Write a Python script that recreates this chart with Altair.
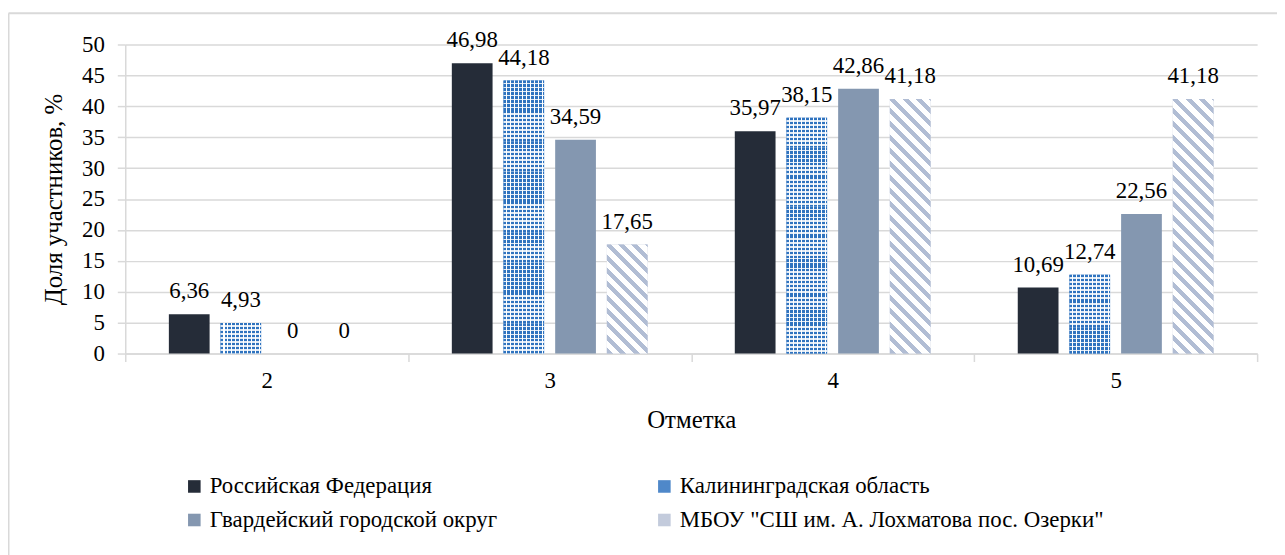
import math
import altair as alt
import pandas as pd

# ---------------- data ----------------
grades = ["2", "3", "4", "5"]
series = [
    "Российская Федерация",
    "Калининградская область",
    "Гвардейский городской округ",
    'МБОУ "СШ им. А. Лохматова пос. Озерки"',
]
rf_values = [6.36, 46.98, 35.97, 10.69]
kal_values = [4.93, 44.18, 38.15, 12.74]
gv_values = [0, 34.59, 42.86, 22.56]
mbou_values = [0, 17.65, 41.18, 41.18]
y_ticks = [0, 5, 10, 15, 20, 25, 30, 35, 40, 45, 50]

all_values = [rf_values, kal_values, gv_values, mbou_values]
rows = []
for si, (s, vals) in enumerate(zip(series, all_values)):
    for g, v in zip(grades, vals):
        lbl = ("%.2f" % v).rstrip("0").rstrip(".").replace(".", ",") if v else "0"
        rows.append({"grade": g, "series": s, "sidx": si, "value": v, "label": lbl})
df = pd.DataFrame(rows)

# ---------------- layout / style ----------------
W, H = 1139, 311
Y_MAX = 50
PX_PER_UNIT = H / Y_MAX
BAND = W / len(grades)
BAR_W, BAR_STEP = 41, 52
OFF_PI = (BAR_STEP - BAR_W) / BAR_STEP
OFF_PO = (BAND / BAR_STEP - len(series) + OFF_PI) / 2

FONT = "Liberation Serif"
LBL = 23
TTL = 25
GRID = "#d9d9d9"
series_colors = {
    series[0]: "#252c38",
    series[1]: "#4f88c9",
    series[2]: "#8497b0",
    series[3]: "#c3cbdc",
}
# Vega fills legend columns top-to-bottom -> reorder so rows read like the reference
legend_domain = [series[0], series[2], series[1], series[3]]
KAL_BLUE = "#2f73bf"
HATCH = "#b1bdd4"


def stripe_stops(n, frac, c_on, c_off):
    stops = []
    i = 0
    while i < n:
        a = min(i / n, 1)
        b = min((i + frac) / n, 1)
        c = min((i + 1) / n, 1)
        stops += [alt.GradientStop(offset=a, color=c_on), alt.GradientStop(offset=b, color=c_on),
                  alt.GradientStop(offset=b, color=c_off), alt.GradientStop(offset=c, color=c_off)]
        i += 1
    return stops


def diag_gradient(w, h, period, frac, c_on, c_off):
    k = (w + h) / (w * w + h * h)
    n = (w + h) / math.sqrt(2) / period
    return alt.LinearGradient(gradient="linear", stops=stripe_stops(n, frac, c_on, c_off),
                              x1=0, y1=1, x2=w * k, y2=1 - h * k)


def vert_gradient(n, frac, c_on, c_off):
    return alt.LinearGradient(gradient="linear", stops=stripe_stops(n, frac, c_on, c_off),
                              x1=0, y1=0, x2=1, y2=0)


def horiz_gradient(n, frac, c_on, c_off):
    return alt.LinearGradient(gradient="linear", stops=stripe_stops(n, frac, c_on, c_off),
                              x1=0, y1=0, x2=0, y2=1)


x_enc = alt.X(
    "grade:N",
    scale=alt.Scale(domain=grades, paddingInner=0, paddingOuter=0),
    axis=alt.Axis(
        title="Отметка", labelAngle=0, tickBand="extent", tickSize=8, tickColor=GRID,
        domainColor=GRID, domainWidth=1.5, tickWidth=1.5, labelFontSize=LBL, labelFont=FONT,
        labelColor="#000", labelPadding=8, titleFont=FONT, titleFontSize=TTL,
        titleFontWeight="normal", titleColor="#000", titleY=74, titleBaseline="alphabetic",
        grid=False,
    ),
)
xo_enc = alt.XOffset(
    "series:N",
    scale=alt.Scale(domain=series, paddingInner=OFF_PI, paddingOuter=OFF_PO),
)
y_scale = alt.Scale(domain=[0, Y_MAX], nice=False)
y_axis = alt.Axis(
    values=y_ticks, title="Доля участников, %", grid=True, gridColor=GRID, gridWidth=1.5,
    tickSize=8, tickColor=GRID, tickWidth=1.5, domainColor=GRID, domainWidth=1.5,
    labelFontSize=LBL, labelFont=FONT, labelColor="#000", labelPadding=13,
    titleFont=FONT, titleFontSize=TTL, titleFontWeight="normal", titleColor="#000",
    titleX=-64, titleY=H / 2, titleBaseline="alphabetic", titleAlign="center",
)
y_enc = alt.Y("value:Q", scale=y_scale, axis=y_axis)

base = alt.Chart(df).encode(x=x_enc, xOffset=xo_enc, y=y_enc)

bars = base.mark_bar().encode(
    color=alt.Color(
        "series:N",
        scale=alt.Scale(domain=legend_domain, range=[series_colors[s] for s in legend_domain]),
        legend=alt.Legend(
            title=None, orient="none", legendX=58, legendY=433, columns=2,
            columnPadding=156, rowPadding=10, symbolType="square", symbolSize=160,
            symbolStrokeWidth=0, labelFont=FONT, labelFontSize=LBL, labelColor="#000",
            labelLimit=700, labelOffset=4,
        ),
    )
)

layers = [bars]

# Kaliningrad: checkered pattern = vertical stripes + horizontal white lines,
# the horizontal lines drawn on equal slices of each bar.
CHECK_PERIOD = 4.0
layers.append(
    base.transform_filter("datum.sidx == 1").mark_bar(
        fill=vert_gradient(BAR_W / CHECK_PERIOD, 0.6, KAL_BLUE, "#ffffff")
    )
)
for g, v in zip(grades, kal_values):
    if v <= 0:
        continue
    n_slices = max(1, math.ceil(v / 5))
    slice_v = v / n_slices
    slice_px = slice_v * PX_PER_UNIT
    sl_rows = [{"grade": g, "series": series[1], "lo": i * slice_v, "hi": (i + 1) * slice_v}
               for i in range(n_slices)]
    layers.append(
        alt.Chart(pd.DataFrame(sl_rows)).mark_bar(
            fill=horiz_gradient(slice_px / CHECK_PERIOD, 0.6,
                                "rgba(255,255,255,0)", "rgba(255,255,255,0.85)")
        ).encode(x=x_enc, xOffset=xo_enc, y=alt.Y("lo:Q", scale=y_scale, axis=y_axis), y2="hi:Q")
    )

# MBOU: diagonal hatch
for g, v in zip(grades, mbou_values):
    if v > 0:
        h = v * PX_PER_UNIT
        layers.append(
            base.transform_filter(f"datum.sidx == 3 && datum.grade == '{g}'").mark_bar(
                fill=diag_gradient(BAR_W, h, 9.5, 0.45, HATCH, "#ffffff")
            )
        )

labels = base.mark_text(
    dy=-16, baseline="alphabetic", align="center", font=FONT, fontSize=LBL, color="#000"
).encode(text="label:N")
layers.append(labels)

# chart frame (top and left edges)
frame_df = pd.DataFrame({"a": [0]})
frame_left = alt.Chart(frame_df).mark_rule(color=GRID, strokeWidth=2).encode(
    x=alt.value(-117.5), y=alt.value(-31.5), y2=alt.value(520)
)
frame_top = alt.Chart(frame_df).mark_rule(color=GRID, strokeWidth=2).encode(
    x=alt.value(-117.5), x2=alt.value(1170), y=alt.value(-31.5)
)
layers += [frame_left, frame_top]

chart = alt.layer(*layers).properties(
    width=W, height=H,
    autosize=alt.AutoSizeParams(type="none"),
    padding={"left": 118, "top": 35, "right": 20, "bottom": 201},
    background="white",
    view=alt.ViewBackground(stroke=None),
)

chart.save("out.html", embed_options={"renderer": "svg", "actions": False})
